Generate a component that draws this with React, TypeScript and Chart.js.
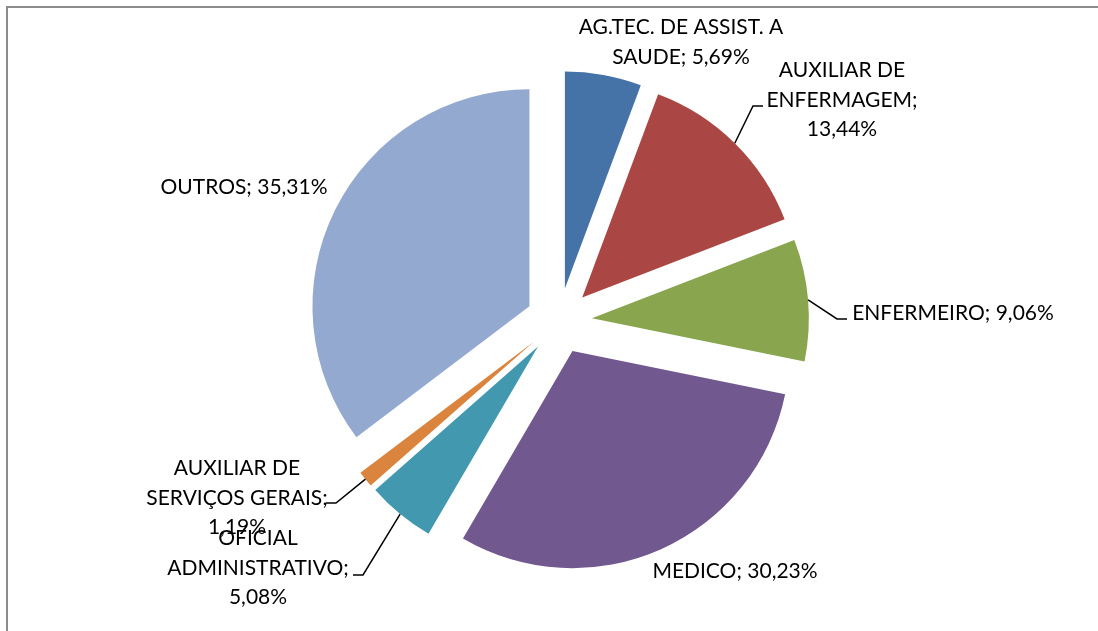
import React, { useEffect, useRef } from 'react';
import { Chart, registerables } from 'chart.js';

Chart.register(...registerables);

// ---- data ----
const categories = [
  'AG.TEC. DE ASSIST. A SAUDE',
  'AUXILIAR DE ENFERMAGEM',
  'ENFERMEIRO',
  'MEDICO',
  'OFICIAL ADMINISTRATIVO',
  'AUXILIAR DE SERVIÇOS GERAIS',
  'OUTROS',
];
const values = [5.69, 13.44, 9.06, 30.23, 5.08, 1.19, 35.31];
const colors = ['#4572A7', '#AA4643', '#89A54E', '#71588F', '#4198AF', '#DB843D', '#93A9CF'];
// words per wrapped line of each data label
const labelWrap = [[4, 2], [2, 1, 1], [2], [2], [1, 1, 1], [2, 2, 1], [2]];
// label block centre, relative to the pie centre
const labelPos = [[122, -279], [283, -221], [394, -8], [176, 250], [-301, 247], [-322, 177], [-315, -134]];
// leader line end (relative to pie centre), null = no leader
const leaderEnd: (number[] | null)[] = [null, [204, -215], [288, -2], null, [-206, 254], [-233, 182], null];

const EXPLODE = 33;
const RADIUS = 217;
const FONT = '21px Lato';
const LINE_H = 29.5;

const fmt = (v: number) => v.toFixed(2).replace('.', ',') + '%';

function wrapLabel(i: number): string[] {
  const words = `${categories[i]}; ${fmt(values[i])}`.split(' ');
  const out: string[] = [];
  let k = 0;
  for (const n of labelWrap[i]) {
    out.push(words.slice(k, k + n).join(' '));
    k += n;
  }
  return out;
}

const explodePlugin = {
  id: 'explodeSlices',
  beforeDatasetDraw(chart: any, args: any) {
    const ctx = chart.ctx;
    args.meta.data.forEach((arc: any) => {
      const mid = (arc.startAngle + arc.endAngle) / 2;
      ctx.save();
      ctx.translate(Math.cos(mid) * EXPLODE, Math.sin(mid) * EXPLODE);
      arc.draw(ctx);
      ctx.restore();
    });
    return false;
  },
};

const labelPlugin = {
  id: 'sliceLabels',
  afterDraw(chart: any) {
    const ctx = chart.ctx;
    const meta = chart.getDatasetMeta(0);
    ctx.save();
    ctx.font = FONT;
    ctx.fillStyle = '#000';
    ctx.textAlign = 'center';
    ctx.textBaseline = 'middle';
    meta.data.forEach((arc: any, i: number) => {
      const cx = arc.x;
      const cy = arc.y;
      const lines = wrapLabel(i);
      const [dx, dy] = labelPos[i];
      const top = cy + dy - ((lines.length - 1) * LINE_H) / 2;
      lines.forEach((t, j) => ctx.fillText(t, cx + dx, top + j * LINE_H));
      const end = leaderEnd[i];
      if (end) {
        const mid = (arc.startAngle + arc.endAngle) / 2;
        const r = arc.outerRadius + EXPLODE;
        const sx = cx + Math.cos(mid) * r;
        const sy = cy + Math.sin(mid) * r;
        const ex = cx + end[0];
        const ey = cy + end[1];
        const bx = ex + (end[0] > 0 ? -10 : 10);
        ctx.beginPath();
        ctx.strokeStyle = '#000';
        ctx.lineWidth = 1.5;
        ctx.moveTo(sx, sy);
        ctx.lineTo(bx, ey);
        ctx.lineTo(ex, ey);
        ctx.stroke();
      }
    });
    ctx.restore();
  },
};

export default function App() {
  const ref = useRef<HTMLCanvasElement | null>(null);
  useEffect(() => {
    if (!ref.current) return;
    const chart = new Chart(ref.current, {
      type: 'pie',
      data: {
        labels: categories,
        datasets: [
          {
            data: values,
            backgroundColor: colors,
            borderWidth: 0,
            radius: RADIUS,
          } as any,
        ],
      },
      options: {
        animation: false,
        responsive: false,
        devicePixelRatio: 1,
        layout: { padding: { left: 20, top: 11, right: 0, bottom: 0 } },
        plugins: { legend: { display: false }, tooltip: { enabled: false } },
        events: [],
      },
      plugins: [explodePlugin, labelPlugin],
    });
    return () => chart.destroy();
  }, []);
  return (
    <div style={{ position: 'fixed', left: 0, top: 0, width: 1098, height: 631, background: '#fff', overflow: 'hidden' }}>
      <div
        style={{
          position: 'absolute',
          left: 6,
          top: 6,
          right: -10,
          bottom: -10,
          borderLeft: '2px solid #8c8c8c',
          borderTop: '2px solid #8c8c8c',
        }}
      />
      <canvas ref={ref} width={1098} height={631} style={{ position: 'absolute', left: 0, top: 0 }} />
    </div>
  );
}
